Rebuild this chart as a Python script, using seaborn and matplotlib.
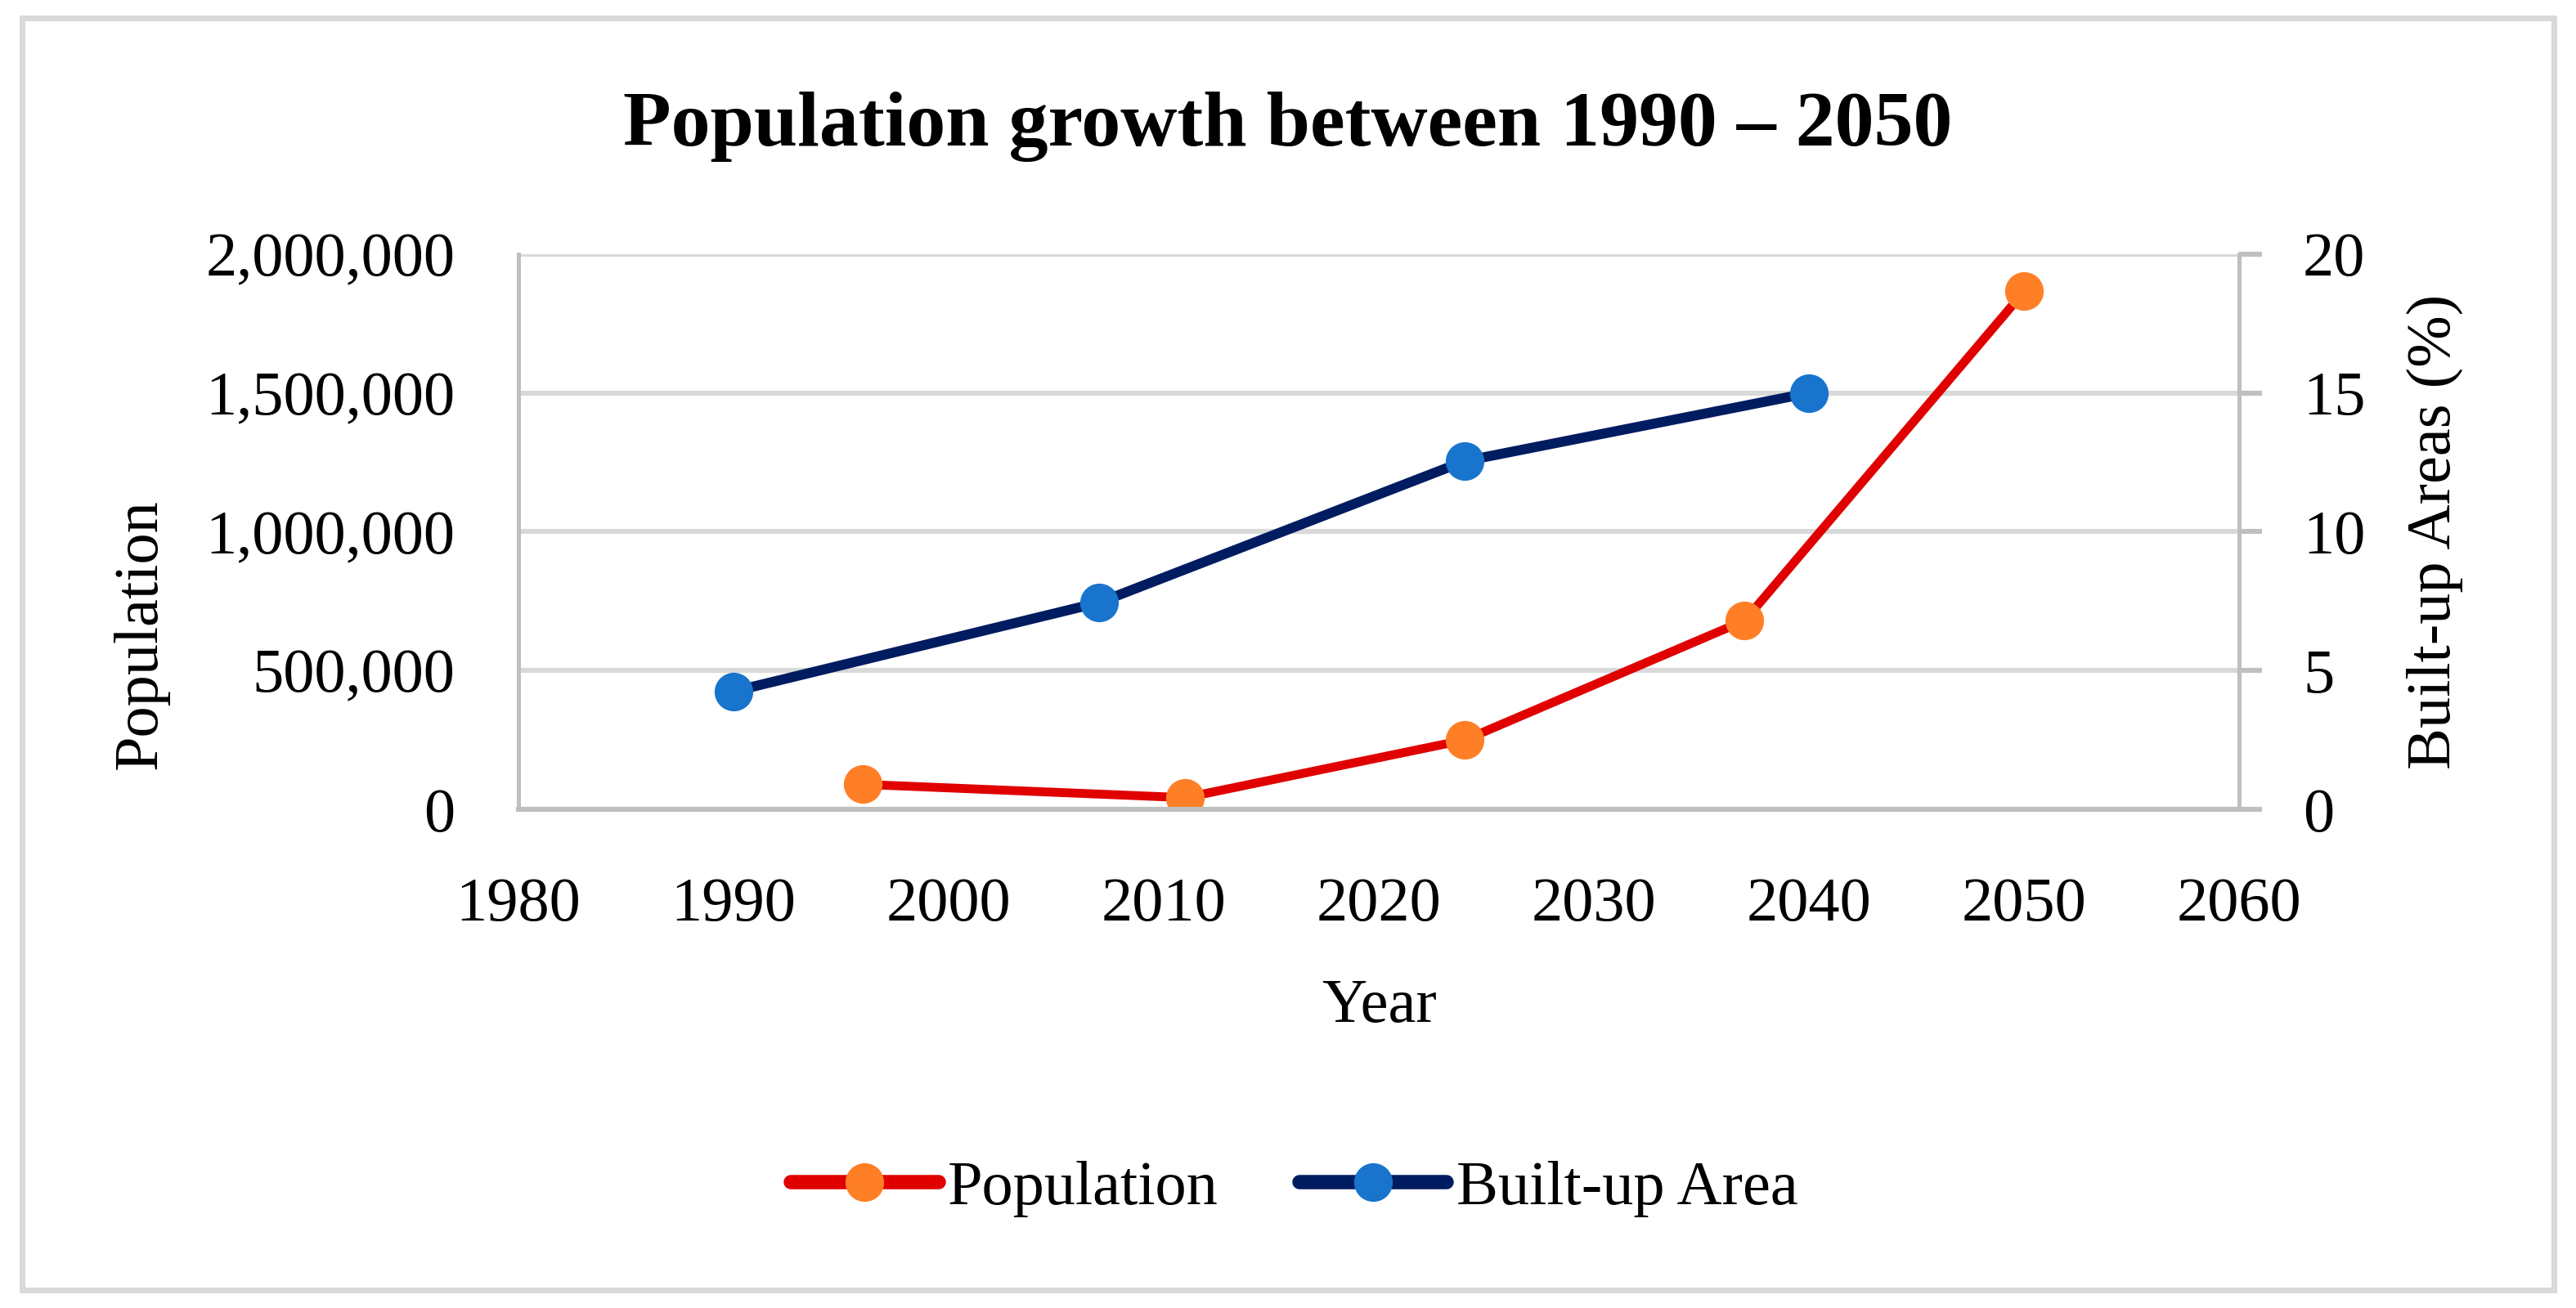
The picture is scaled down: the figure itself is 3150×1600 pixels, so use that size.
import matplotlib
matplotlib.use("Agg")
import matplotlib.pyplot as plt
import matplotlib.ticker as mticker
from matplotlib.patches import Rectangle
import seaborn as sns
import pandas as pd

# values
pop_years = [1996, 2011, 2024, 2037, 2050]
population = [90000, 42000, 250000, 680000, 1866000]
built_years = [1990, 2007, 2024, 2040]
built_up = [4.25, 7.45, 12.55, 15.0]

x_ticks = [1980, 1990, 2000, 2010, 2020, 2030, 2040, 2050, 2060]
pop_ticks = [0, 500000, 1000000, 1500000, 2000000]
built_ticks = [0, 5, 10, 15, 20]

RED = "#E00000"
ORANGE = "#FF7F27"
NAVY = "#001C60"
BLUE = "#1874CD"
GRID = "#D9D9D9"
SPINE = "#BFBFBF"

sns.set_theme(style="white")
plt.rcParams["font.family"] = ["Liberation Serif", "DejaVu Serif"]
plt.rcParams.update({"text.color": "black", "axes.labelcolor": "black",
                     "xtick.color": "black", "ytick.color": "black"})
FS = 27.5

df_pop = pd.DataFrame({"Year": pop_years, "Population": population})
df_built = pd.DataFrame({"Year": built_years, "Built": built_up})

fig = plt.figure(figsize=(15.75, 8), dpi=200)
ax = fig.add_axes([0.2013, 0.38125, 0.668, 0.4244])
ax2 = ax.twinx()

sns.lineplot(data=df_pop, x="Year", y="Population", ax=ax, color=RED, linewidth=3.9,
             marker="o", markersize=17, markerfacecolor=ORANGE, markeredgewidth=0,
             label="Population", legend=False)
sns.lineplot(data=df_built, x="Year", y="Built", ax=ax2, color=NAVY, linewidth=4.4,
             marker="o", markersize=17, markerfacecolor=BLUE, markeredgewidth=0,
             label="Built-up Area", legend=False)

ax.set_xlim(1980, 2060)
ax.set_ylim(0, 2000000)
ax2.set_ylim(0, 20)
ax.set_xticks(x_ticks)
ax.set_yticks(pop_ticks)
ax2.set_yticks(built_ticks)
ax.yaxis.set_major_formatter(mticker.StrMethodFormatter("{x:,.0f}"))

ax.yaxis.grid(True, color=GRID, linewidth=2.2)
ax.set_axisbelow(True)
ax2.grid(False)

for a in (ax, ax2):
    for s in a.spines.values():
        s.set_visible(False)
ax.spines["left"].set_visible(True)
ax.spines["left"].set_color(SPINE)
ax.spines["left"].set_linewidth(1.8)
ax.spines["bottom"].set_visible(True)
ax.spines["bottom"].set_color(SPINE)
ax.spines["bottom"].set_linewidth(2.2)
ax2.spines["right"].set_visible(True)
ax2.spines["right"].set_color(SPINE)
ax2.spines["right"].set_linewidth(1.8)

ax.tick_params(axis="x", length=0, pad=30, labelsize=FS)
ax.tick_params(axis="y", length=0, pad=28, labelsize=FS)
ax2.tick_params(axis="y", length=10, width=2.2, color=SPINE, labelcolor="black",
                direction="out", pad=18, labelsize=FS)

ax.set_xlabel("Year", fontsize=FS)
ax.xaxis.set_label_coords(0.5, -0.305)
ax.set_ylabel("Population", fontsize=FS)
ax.yaxis.set_label_coords(-0.203, 0.315)
ax2.set_ylabel("Built-up Areas (%)", fontsize=FS)
ax2.yaxis.set_label_coords(1.097, 0.5)

fig.text(0.5, 0.889, "Population growth between 1990 \u2013 2050", ha="center",
         va="baseline", fontsize=34.5, fontweight="bold")

h1, l1 = ax.get_legend_handles_labels()
h2, l2 = ax2.get_legend_handles_labels()
leg = fig.legend(h1 + h2, l1 + l2, loc="center", bbox_to_anchor=(0.5025, 0.091),
                 ncol=2, frameon=False, fontsize=FS, handlelength=2.36,
                 handletextpad=0.15, columnspacing=1.3)
for h in leg.legend_handles:
    h.set_linewidth(6.3)

fig.patches.append(Rectangle((0.0086, 0.0138), 0.9828, 0.9725, transform=fig.transFigure,
                             fill=False, edgecolor=GRID, linewidth=2.5))

fig.savefig("out.png", dpi=200)
